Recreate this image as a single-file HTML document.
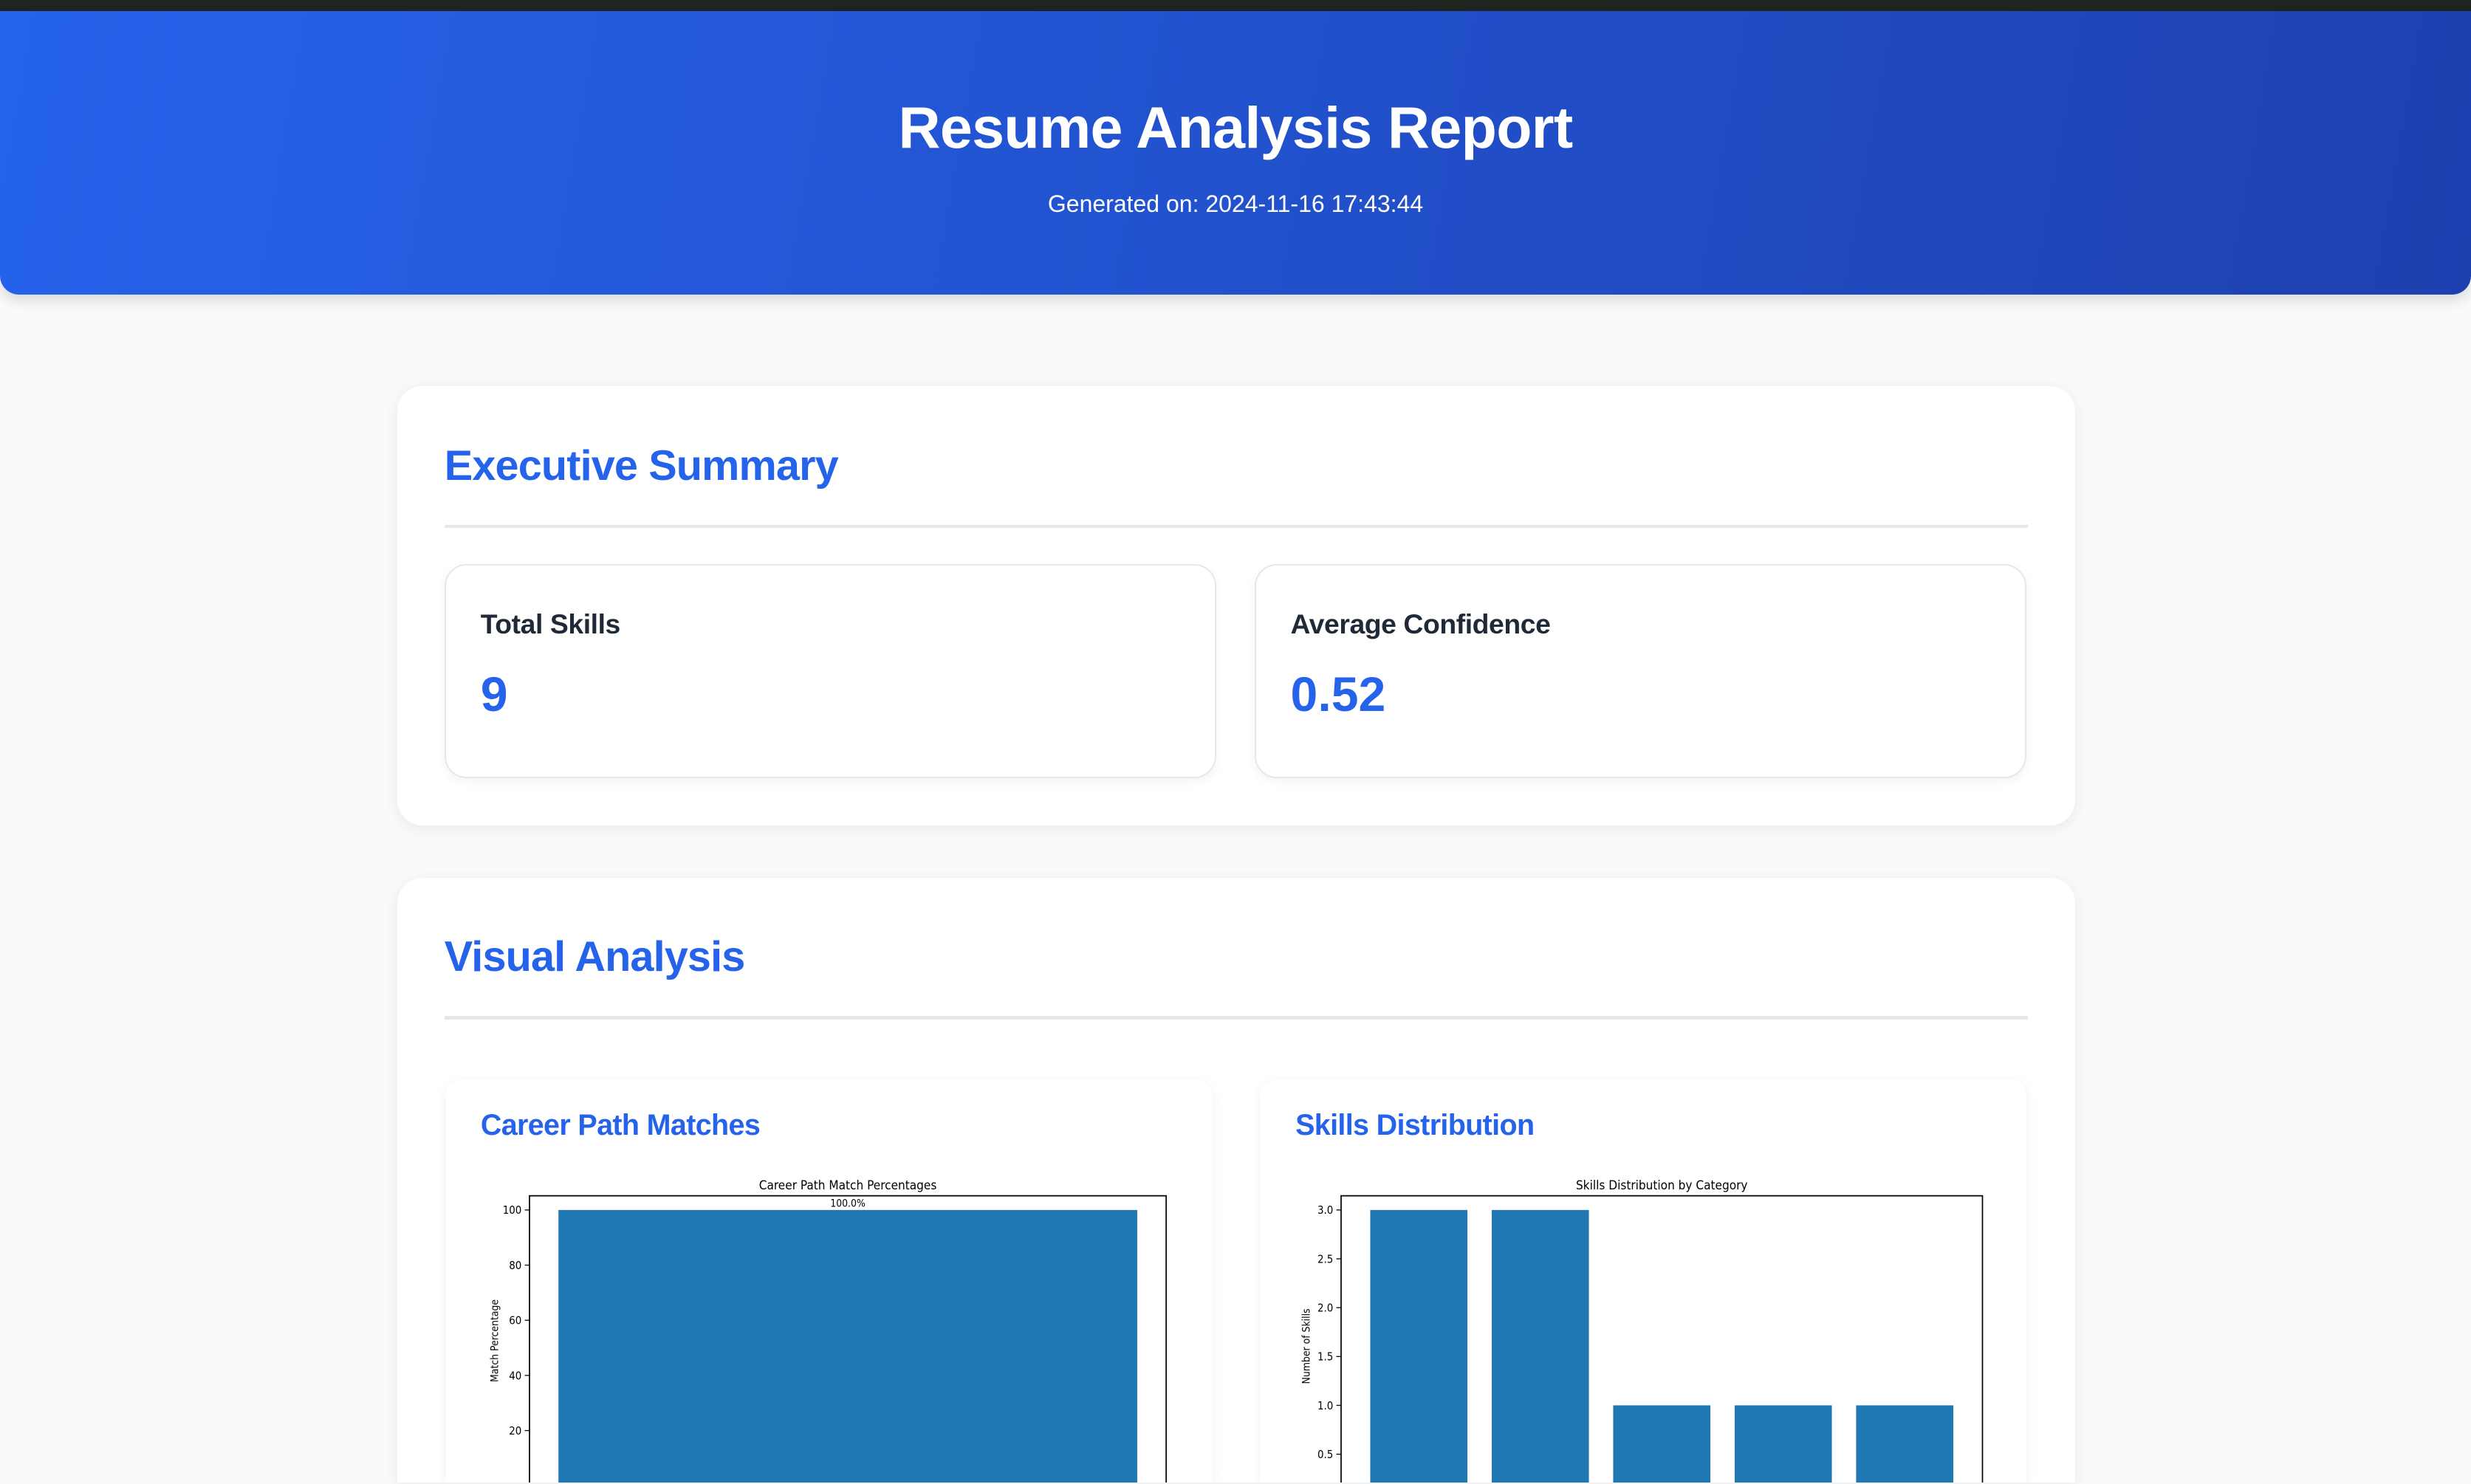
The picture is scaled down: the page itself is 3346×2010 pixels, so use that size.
<!DOCTYPE html>
<html><head><meta charset="utf-8">
<style>
html,body{margin:0;padding:0;overflow:hidden;}
html{width:3346px;height:2010px;}
body{width:1568px;height:941.5px;overflow:hidden;zoom:2.13393;background:#f8fafc;font-family:"Liberation Sans",sans-serif;position:relative;}
.topbar{position:absolute;left:0;top:0;width:1568px;height:7px;background:#1f2421;}
.header{position:absolute;left:0;top:7px;width:1568px;height:180px;background:linear-gradient(100deg,#2563eb 0%,#1e40af 100%);border-radius:0 0 12px 12px;box-shadow:0 4px 8px rgba(0,0,0,.12);color:#fff;text-align:center;}
.header h1{margin:0;position:absolute;top:53px;width:100%;font-size:37px;font-weight:bold;letter-spacing:-0.3px;}
.header p{margin:0;position:absolute;top:114px;width:100%;font-size:15px;}
.card{position:absolute;left:252px;width:1065px;background:#fff;border-radius:16px;box-shadow:0 2px 10px rgba(0,0,0,.07);overflow:hidden;}
.card h2{position:absolute;left:30px;margin:0;font-size:27px;color:#2563eb;font-weight:bold;letter-spacing:-0.4px;}
.hr{position:absolute;left:30px;width:1005px;height:2px;background:#e5e7eb;}
.stat{position:absolute;top:113px;width:488px;height:134px;border:1px solid #e5e7eb;border-radius:14px;box-shadow:0 2px 6px rgba(0,0,0,.05);}
.stat h3{position:absolute;left:22px;top:27px;margin:0;font-size:17.5px;color:#1f2937;letter-spacing:-0.2px;}
.stat .v{position:absolute;left:22px;top:64px;font-size:31px;font-weight:bold;color:#2563eb;}
.cc{position:absolute;top:128px;width:486px;height:256px;background:#fff;border-radius:10px 10px 0 0;box-shadow:0 2px 8px rgba(0,0,0,.06);}
.cc h3{position:absolute;left:22px;top:19px;margin:0;font-size:18.5px;color:#2563eb;letter-spacing:-0.3px;}
svg text{font-family:"DejaVu Sans Condensed","DejaVu Sans",sans-serif;}
</style></head><body>
<div class="topbar"></div>
<div class="header">
<h1>Resume Analysis Report</h1>
<p>Generated on: 2024-11-16 17:43:44</p>
</div>
<div class="card" style="top:245px;height:279px">
<h2 style="top:35px">Executive Summary</h2>
<div class="hr" style="top:88px"></div>
<div class="stat" style="left:30px"><h3>Total Skills</h3><div class="v">9</div></div>
<div class="stat" style="left:544px"><h3>Average Confidence</h3><div class="v">0.52</div></div>
</div>
<div class="card" style="top:557px;height:384px;border-radius:16px 16px 0 0">
<h2 style="top:35px">Visual Analysis</h2>
<div class="hr" style="top:88px"></div>
<div class="cc" style="left:31px"><h3>Career Path Matches</h3></div>
<div class="cc" style="left:548px"><h3>Skills Distribution</h3></div>
</div>
<svg id="charts" width="1568" height="941" style="position:absolute;left:0;top:0;overflow:hidden"></svg>
<script>
const careerCategories=["Software Engineer"];
const careerValues=[100];
const careerTicks=[0,20,40,60,80,100];
const skillCategories=["Programming","Tools","Databases","Cloud","Soft Skills"];
const skillValues=[3,3,1,1,1];
const skillTicks=[0.5,1.0,1.5,2.0,2.5,3.0];

const NS="http://www.w3.org/2000/svg";
const svg=document.getElementById('charts');
const BOTTOM=941;
function mk(t,a,txt){const e=document.createElementNS(NS,t);for(const k in a)e.setAttribute(k,a[k]);if(txt!==undefined)e.textContent=txt;svg.appendChild(e);return e;}

function drawChart(cfg){
  const {x0,x1,yTop,y0px,yPerUnit,cats,vals,ticks,title,ylabel,fmt,labelBars,name}=cfg;
  const n=cats.length;
  const span=(n-1)+0.8; const margin=span*0.05;
  const lo=-0.4-margin, hi=(n-1)+0.4+margin;
  const xs=v=>x0+(v-lo)/(hi-lo)*(x1-x0);
  const ys=v=>y0px-v*yPerUnit;
  let t=mk('text',{x:(x0+x1)/2,y:yTop-4,'font-size':8,'text-anchor':'middle',fill:'#000'},title);
  
  
  vals.forEach((v,i)=>{
    const r=mk('rect',{x:xs(i-0.4),y:ys(v),width:xs(i+0.4)-xs(i-0.4),height:Math.max(0,Math.min(y0px,BOTTOM)-ys(v)),fill:'#1f77b4'});
    
    
    if(labelBars){const l=mk('text',{x:xs(i),y:ys(v)-2,'font-size':6.5,'text-anchor':'middle',fill:'#000'},v.toFixed(1)+'%');
      
      }
  });
  const f=mk('path',{d:`M${x0},${BOTTOM}V${yTop}H${x1}V${BOTTOM}`,fill:'none',stroke:'#000','stroke-width':0.8});
  
  
  ticks.forEach(tv=>{
    if(ys(tv)>BOTTOM-2) return;
    mk('line',{x1:x0-3,x2:x0,y1:ys(tv),y2:ys(tv),stroke:'#000','stroke-width':0.6});
    const tl=mk('text',{x:x0-5,y:ys(tv)+2.5,'font-size':7,'text-anchor':'end',fill:'#000'},fmt(tv));
    
    
  });
  const yl=mk('text',{x:0,y:0,'font-size':6.5,'text-anchor':'middle',fill:'#000',transform:`translate(${x0-20},${(yTop+y0px)/2+(name==='skills'?-2:0)}) rotate(-90)`},ylabel);
  
  
}
drawChart({x0:336,x1:740,yTop:759,y0px:943,yPerUnit:1.75,cats:careerCategories,vals:careerValues,ticks:careerTicks,title:"Career Path Match Percentages",ylabel:"Match Percentage",fmt:v=>String(v),labelBars:true,name:'career'});
drawChart({x0:851,x1:1258,yTop:759,y0px:954,yPerUnit:62,cats:skillCategories,vals:skillValues,ticks:skillTicks,title:"Skills Distribution by Category",ylabel:"Number of Skills",fmt:v=>v.toFixed(1),labelBars:false,name:'skills'});
</script>
</body></html>
